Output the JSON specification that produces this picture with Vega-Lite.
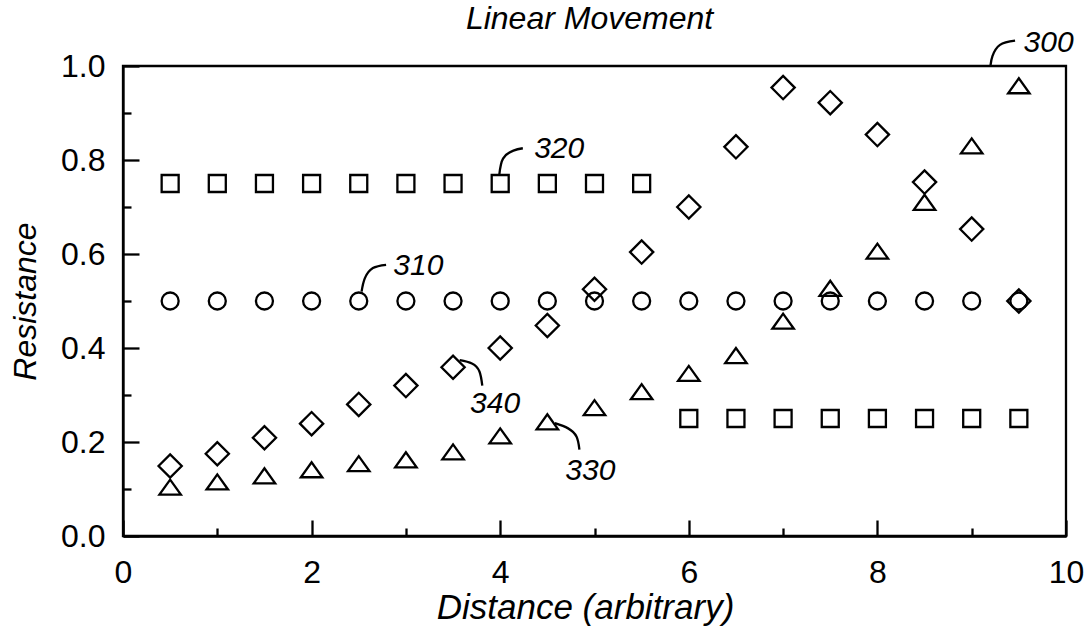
{
  "$schema": "https://vega.github.io/schema/vega-lite/v6.json",
  "width": 943,
  "height": 470,
  "autosize": "none",
  "padding": {"left": 123, "top": 66, "right": 26, "bottom": 106},
  "background": "white",
  "config": {
    "view": {"stroke": "black", "strokeWidth": 2.3},
    "font": "Liberation Sans"
  },
  "title": {
    "text": "Linear Movement",
    "fontSize": 32,
    "fontStyle": "italic",
    "fontWeight": "normal",
    "offset": -8,
    "frame": "group",
    "dx": -5,
    "color": "black",
    "anchor": "middle"
  },
  "datasets": {
    "pts": [
      {"series": "320", "x": 0.5, "y": 0.75}, {"series": "320", "x": 1.0, "y": 0.75}, {"series": "320", "x": 1.5, "y": 0.75}, {"series": "320", "x": 2.0, "y": 0.75},
      {"series": "320", "x": 2.5, "y": 0.75}, {"series": "320", "x": 3.0, "y": 0.75}, {"series": "320", "x": 3.5, "y": 0.75}, {"series": "320", "x": 4.0, "y": 0.75},
      {"series": "320", "x": 4.5, "y": 0.75}, {"series": "320", "x": 5.0, "y": 0.75}, {"series": "320", "x": 5.5, "y": 0.75},
      {"series": "320", "x": 6.0, "y": 0.25}, {"series": "320", "x": 6.5, "y": 0.25}, {"series": "320", "x": 7.0, "y": 0.25}, {"series": "320", "x": 7.5, "y": 0.25},
      {"series": "320", "x": 8.0, "y": 0.25}, {"series": "320", "x": 8.5, "y": 0.25}, {"series": "320", "x": 9.0, "y": 0.25}, {"series": "320", "x": 9.5, "y": 0.25},
      {"series": "310", "x": 0.5, "y": 0.5}, {"series": "310", "x": 1.0, "y": 0.5}, {"series": "310", "x": 1.5, "y": 0.5}, {"series": "310", "x": 2.0, "y": 0.5},
      {"series": "310", "x": 2.5, "y": 0.5}, {"series": "310", "x": 3.0, "y": 0.5}, {"series": "310", "x": 3.5, "y": 0.5}, {"series": "310", "x": 4.0, "y": 0.5},
      {"series": "310", "x": 4.5, "y": 0.5}, {"series": "310", "x": 5.0, "y": 0.5}, {"series": "310", "x": 5.5, "y": 0.5}, {"series": "310", "x": 6.0, "y": 0.5},
      {"series": "310", "x": 6.5, "y": 0.5}, {"series": "310", "x": 7.0, "y": 0.5}, {"series": "310", "x": 7.5, "y": 0.5}, {"series": "310", "x": 8.0, "y": 0.5},
      {"series": "310", "x": 8.5, "y": 0.5}, {"series": "310", "x": 9.0, "y": 0.5}, {"series": "310", "x": 9.5, "y": 0.5},
      {"series": "340", "x": 0.5, "y": 0.149}, {"series": "340", "x": 1.0, "y": 0.175}, {"series": "340", "x": 1.5, "y": 0.209}, {"series": "340", "x": 2.0, "y": 0.239},
      {"series": "340", "x": 2.5, "y": 0.28}, {"series": "340", "x": 3.0, "y": 0.32}, {"series": "340", "x": 3.5, "y": 0.359}, {"series": "340", "x": 4.0, "y": 0.40},
      {"series": "340", "x": 4.5, "y": 0.448}, {"series": "340", "x": 5.0, "y": 0.525}, {"series": "340", "x": 5.5, "y": 0.604}, {"series": "340", "x": 6.0, "y": 0.70},
      {"series": "340", "x": 6.5, "y": 0.828}, {"series": "340", "x": 7.0, "y": 0.954}, {"series": "340", "x": 7.5, "y": 0.922}, {"series": "340", "x": 8.0, "y": 0.854},
      {"series": "340", "x": 8.5, "y": 0.753}, {"series": "340", "x": 9.0, "y": 0.653}, {"series": "340", "x": 9.5, "y": 0.50},
      {"series": "330", "x": 0.5, "y": 0.104}, {"series": "330", "x": 1.0, "y": 0.115}, {"series": "330", "x": 1.5, "y": 0.128}, {"series": "330", "x": 2.0, "y": 0.141},
      {"series": "330", "x": 2.5, "y": 0.154}, {"series": "330", "x": 3.0, "y": 0.162}, {"series": "330", "x": 3.5, "y": 0.179}, {"series": "330", "x": 4.0, "y": 0.213},
      {"series": "330", "x": 4.5, "y": 0.243}, {"series": "330", "x": 5.0, "y": 0.273}, {"series": "330", "x": 5.5, "y": 0.307}, {"series": "330", "x": 6.0, "y": 0.346},
      {"series": "330", "x": 6.5, "y": 0.384}, {"series": "330", "x": 7.0, "y": 0.457}, {"series": "330", "x": 7.5, "y": 0.527}, {"series": "330", "x": 8.0, "y": 0.606},
      {"series": "330", "x": 8.5, "y": 0.71}, {"series": "330", "x": 9.0, "y": 0.83}, {"series": "330", "x": 9.5, "y": 0.958}
    ],
    "labels": [
      {"label": "300", "x": 9.55, "y": 1.030},
      {"label": "320", "x": 4.36, "y": 0.804},
      {"label": "310", "x": 2.866, "y": 0.555},
      {"label": "340", "x": 3.68, "y": 0.261},
      {"label": "330", "x": 4.69, "y": 0.119}
    ],
    "leaders": [
      {"g": "300", "i": 0, "x": 9.20, "y": 1.002}, {"g": "300", "i": 1, "x": 9.22, "y": 1.021}, {"g": "300", "i": 2, "x": 9.30, "y": 1.045}, {"g": "300", "i": 3, "x": 9.46, "y": 1.054},
      {"g": "320", "i": 0, "x": 3.99, "y": 0.768}, {"g": "320", "i": 1, "x": 4.03, "y": 0.803}, {"g": "320", "i": 2, "x": 4.14, "y": 0.820}, {"g": "320", "i": 3, "x": 4.24, "y": 0.825},
      {"g": "310", "i": 0, "x": 2.53, "y": 0.52}, {"g": "310", "i": 1, "x": 2.564, "y": 0.548}, {"g": "310", "i": 2, "x": 2.65, "y": 0.57}, {"g": "310", "i": 3, "x": 2.79, "y": 0.577},
      {"g": "340", "i": 0, "x": 3.57, "y": 0.374}, {"g": "340", "i": 1, "x": 3.70, "y": 0.367}, {"g": "340", "i": 2, "x": 3.78, "y": 0.35}, {"g": "340", "i": 3, "x": 3.81, "y": 0.32},
      {"g": "330", "i": 0, "x": 4.58, "y": 0.24}, {"g": "330", "i": 1, "x": 4.72, "y": 0.229}, {"g": "330", "i": 2, "x": 4.81, "y": 0.211}, {"g": "330", "i": 3, "x": 4.84, "y": 0.184}
    ]
  },
  "encoding": {
    "x": {
      "field": "x",
      "type": "quantitative",
      "scale": {"domain": [0, 10], "nice": false, "zero": false},
      "axis": {
        "values": [0, 1, 2, 3, 4, 5, 6, 7, 8, 9, 10],
        "labelExpr": "datum.value % 2 === 0 ? datum.label : ''",
        "grid": false,
        "tickSize": -16,
        "tickColor": "black",
        "tickWidth": 2.3,
        "domainColor": "black",
        "domainWidth": 2.3,
        "labelFontSize": 32,
        "labelColor": "black",
        "labelFlush": false,
        "labelOverlap": false,
        "labelBaseline": "alphabetic",
        "labelPadding": 62,
        "title": "Distance (arbitrary)",
        "titleFontSize": 35,
        "titleFontStyle": "italic",
        "titleFontWeight": "normal",
        "titleColor": "black",
        "titleX": 462,
        "titleY": 82,
        "titleAlign": "center",
        "titleBaseline": "alphabetic",
        "encoding": {"ticks": {"y2": {"value": {"expr": "datum.value % 2 === 0 ? -16 : -8"}}}}
      }
    },
    "y": {
      "field": "y",
      "type": "quantitative",
      "scale": {"domain": [0, 1], "nice": false, "zero": false},
      "axis": {
        "values": [0, 0.1, 0.2, 0.3, 0.4, 0.5, 0.6, 0.7, 0.8, 0.9, 1.0],
        "labelExpr": "round(datum.value * 10) % 2 === 0 ? format(datum.value, '.1f') : ''",
        "grid": false,
        "tickSize": -16,
        "tickColor": "black",
        "tickWidth": 2.3,
        "domainColor": "black",
        "domainWidth": 2.3,
        "labelFontSize": 32,
        "labelColor": "black",
        "labelFlush": false,
        "labelOverlap": false,
        "labelBaseline": "middle",
        "labelPadding": 34,
        "title": "Resistance",
        "titleFontSize": 32,
        "titleFontStyle": "italic",
        "titleFontWeight": "normal",
        "titleColor": "black",
        "titleAngle": 270,
        "titleX": -88,
        "titleY": 235,
        "titleAlign": "center",
        "titleBaseline": "alphabetic",
        "encoding": {"ticks": {"x2": {"value": {"expr": "round(datum.value * 10) % 2 === 0 ? 16 : 8"}}}}
      }
    }
  },
  "layer": [
    {
      "data": {"name": "pts"},
      "transform": [{"filter": "datum.series === '320'"}],
      "mark": {"type": "point", "shape": "square", "size": 289, "filled": false, "stroke": "black", "strokeWidth": 2.3, "opacity": 1}
    },
    {
      "data": {"name": "pts"},
      "transform": [{"filter": "datum.series === '310'"}],
      "mark": {"type": "point", "shape": "circle", "size": 289, "filled": false, "stroke": "black", "strokeWidth": 2.3, "opacity": 1}
    },
    {
      "data": {"name": "pts"},
      "transform": [{"filter": "datum.series === '340'"}],
      "mark": {"type": "point", "shape": "diamond", "size": 540, "filled": false, "stroke": "black", "strokeWidth": 2.3, "opacity": 1}
    },
    {
      "data": {"name": "pts"},
      "transform": [{"filter": "datum.series === '330'"}],
      "mark": {"type": "point", "shape": "M-1,0.7L1,0.7L0,-0.7Z", "size": 460, "filled": false, "stroke": "black", "strokeWidth": 2.3, "opacity": 1}
    },
    {
      "data": {"name": "leaders"},
      "mark": {"type": "line", "stroke": "black", "strokeWidth": 2.3, "interpolate": "natural"},
      "encoding": {
        "detail": {"field": "g", "type": "nominal"},
        "order": {"field": "i", "type": "quantitative"}
      }
    },
    {
      "data": {"name": "labels"},
      "mark": {"type": "text", "align": "left", "baseline": "alphabetic", "fontSize": 30, "fontStyle": "italic", "color": "black"},
      "encoding": {
        "text": {"field": "label", "type": "nominal"}
      }
    }
  ]
}
